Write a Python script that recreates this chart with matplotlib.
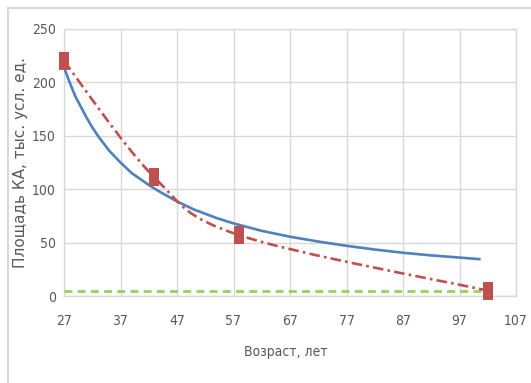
import matplotlib
matplotlib.use('Agg')
import matplotlib.pyplot as plt
from matplotlib import font_manager
from matplotlib.lines import Line2D
from matplotlib.path import Path
from matplotlib.patches import PathPatch

# данные
ageObs = [27, 43, 58, 102]
areaObs = [220, 111, 57, 5]

ageFit = [27, 28, 29, 30, 31, 32, 33, 34, 35, 36, 37, 38, 39, 40.5, 42, 43.5, 45, 47,
          50, 54, 57, 62, 67, 72, 77, 82, 87, 92, 97, 100.5]
areaFit = [214, 200, 187, 177, 167, 158, 150, 143, 136, 130.5, 125, 120, 115, 109.5, 104, 99, 94.5, 88.5,
           81, 73, 68, 61, 55.5, 51, 47, 43.5, 40.5, 38, 36, 34.5]

ageLevel = [27, 101]
areaLevel = [5, 5]

xTicks = [27, 37, 47, 57, 67, 77, 87, 97, 107]
yTicks = [0, 50, 100, 150, 200, 250]

gray = '#595959'

# узкий шрифт для подписей, если найдется
fonts = font_manager.fontManager.ttflist
names = set(f.name for f in fonts)
narrowKw = {'family': ['DejaVu Sans']}
if 'Liberation Sans Narrow' in names:
    narrowKw = {'family': ['Liberation Sans Narrow', 'DejaVu Sans']}
elif any(f.name == 'DejaVu Sans' and str(f.stretch) in ('condensed', 'semi-condensed') for f in fonts):
    narrowKw = {'family': ['DejaVu Sans'], 'stretch': 'condensed'}


def smoothPath(xs, ys):
    # сглаженная линия как в Excel (кубические сплайны Безье)
    pts = list(zip(xs, ys))
    verts = [pts[0]]
    codes = [Path.MOVETO]
    n = len(pts)
    for i in range(n - 1):
        p0 = pts[max(i - 1, 0)]
        p1 = pts[i]
        p2 = pts[i + 1]
        p3 = pts[min(i + 2, n - 1)]
        c1 = (p1[0] + (p2[0] - p0[0]) / 6.0, p1[1] + (p2[1] - p0[1]) / 6.0)
        c2 = (p2[0] - (p3[0] - p1[0]) / 6.0, p2[1] - (p3[1] - p1[1]) / 6.0)
        verts += [c1, c2, p2]
        codes += [Path.CURVE4] * 3
    return Path(verts, codes)


fig = plt.figure(figsize=(5.31, 3.83), dpi=100)
ax = fig.add_axes([64/531, 1-296/383, (516-64)/531, (296-29)/383])

# рамка области диаграммы (слева и сверху)
fig.add_artist(Line2D([8/531, 1], [1-8/383, 1-8/383], color='#d9d9d9', lw=1.5, transform=fig.transFigure))
fig.add_artist(Line2D([8/531, 8/531], [0, 1-8/383], color='#d9d9d9', lw=1.5, transform=fig.transFigure))

tallSquare = Path([(-0.6, -1), (0.6, -1), (0.6, 1), (-0.6, 1), (-0.6, -1)],
                  [Path.MOVETO, Path.LINETO, Path.LINETO, Path.LINETO, Path.CLOSEPOLY])

ax.plot(ageLevel, areaLevel, color='#92d050', lw=1.9, dashes=(3, 2), zorder=3)
ax.plot(ageFit, areaFit, color='#4f81bd', lw=1.9, zorder=4, solid_joinstyle='round')
redLine = PathPatch(smoothPath(ageObs, areaObs), fill=False, edgecolor='#c0504d', lw=1.9,
                    linestyle=(0, (4, 1.6, 1, 1.6)), zorder=5)
ax.add_patch(redLine)
ax.plot(ageObs, areaObs, linestyle='none', color='#c0504d',
        marker=tallSquare, markersize=12.5, markeredgewidth=0, zorder=6, clip_on=False)

ax.set_xlim(27, 107)
ax.set_ylim(0, 250)
ax.set_xticks(xTicks)
ax.set_yticks(yTicks)
ax.grid(True, color='#d9d9d9', lw=1)
ax.set_axisbelow(True)
for s in ax.spines.values():
    s.set_color('#d9d9d9')
    s.set_linewidth(1)
ax.tick_params(length=0, colors=gray, labelsize=10)
ax.tick_params(axis='x', pad=13)
ax.tick_params(axis='y', pad=6)
for lab in ax.get_xticklabels() + ax.get_yticklabels():
    lab.set(**narrowKw)

ax.set_xlabel('Возраст, лет', color=gray, fontsize=10, **narrowKw)
ax.xaxis.set_label_coords(0.49, -0.185)
ax.set_ylabel('Площадь КА, тыс. усл. ед.', color=gray, fontsize=11)
ax.yaxis.set_label_coords(-0.079, 0.5)

fig.savefig('out.png', dpi=100)
plt.close(fig)
